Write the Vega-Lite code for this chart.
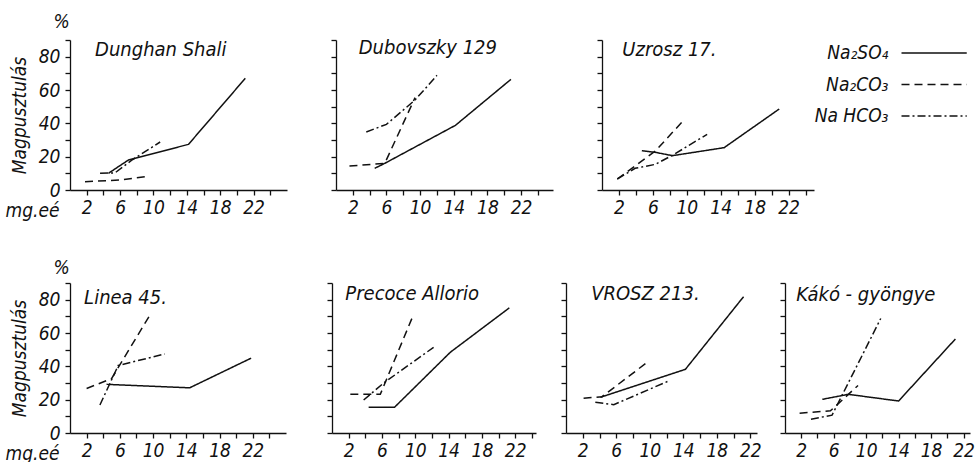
{
  "$schema": "https://vega.github.io/schema/vega-lite/v6.json",
  "background": "white",
  "padding": {"left": 5, "top": 12, "right": 0, "bottom": 0},
  "datasets": {
    "d": [
      {"p": 1, "s": "Na2SO4", "x": 4.6, "y": 10},
      {"p": 1, "s": "Na2SO4", "x": 7, "y": 18},
      {"p": 1, "s": "Na2SO4", "x": 14.2, "y": 27.4},
      {"p": 1, "s": "Na2SO4", "x": 21, "y": 67},
      {"p": 1, "s": "Na2CO3", "x": 1.8, "y": 5},
      {"p": 1, "s": "Na2CO3", "x": 6, "y": 6},
      {"p": 1, "s": "Na2CO3", "x": 9.4, "y": 8.3},
      {"p": 1, "s": "NaHCO3", "x": 3.6, "y": 10},
      {"p": 1, "s": "NaHCO3", "x": 5.4, "y": 10.3},
      {"p": 1, "s": "NaHCO3", "x": 7.4, "y": 17.9},
      {"p": 1, "s": "NaHCO3", "x": 10.8, "y": 28.8},

      {"p": 2, "s": "Na2SO4", "x": 4.6, "y": 13},
      {"p": 2, "s": "Na2SO4", "x": 5.8, "y": 16},
      {"p": 2, "s": "Na2SO4", "x": 14.2, "y": 38.8},
      {"p": 2, "s": "Na2SO4", "x": 20.8, "y": 66.4},
      {"p": 2, "s": "Na2CO3", "x": 1.6, "y": 14.4},
      {"p": 2, "s": "Na2CO3", "x": 5.8, "y": 16},
      {"p": 2, "s": "Na2CO3", "x": 9.4, "y": 55.4},
      {"p": 2, "s": "NaHCO3", "x": 3.6, "y": 34.8},
      {"p": 2, "s": "NaHCO3", "x": 6, "y": 39.4},
      {"p": 2, "s": "NaHCO3", "x": 9.4, "y": 54},
      {"p": 2, "s": "NaHCO3", "x": 12, "y": 68.8},

      {"p": 3, "s": "Na2SO4", "x": 4.7, "y": 23.6},
      {"p": 3, "s": "Na2SO4", "x": 6.3, "y": 22.6},
      {"p": 3, "s": "Na2SO4", "x": 8.3, "y": 20.6},
      {"p": 3, "s": "Na2SO4", "x": 14.4, "y": 25.4},
      {"p": 3, "s": "Na2SO4", "x": 20.9, "y": 48.6},
      {"p": 3, "s": "Na2CO3", "x": 1.8, "y": 6.6},
      {"p": 3, "s": "Na2CO3", "x": 6.3, "y": 23.4},
      {"p": 3, "s": "Na2CO3", "x": 9.4, "y": 40.6},
      {"p": 3, "s": "NaHCO3", "x": 1.8, "y": 6.6},
      {"p": 3, "s": "NaHCO3", "x": 3.9, "y": 13},
      {"p": 3, "s": "NaHCO3", "x": 6.3, "y": 15.4},
      {"p": 3, "s": "NaHCO3", "x": 8.5, "y": 21.4},
      {"p": 3, "s": "NaHCO3", "x": 12.4, "y": 33.4},

      {"p": 4, "s": "Na2SO4", "x": 4.4, "y": 29.2},
      {"p": 4, "s": "Na2SO4", "x": 14.4, "y": 27.1},
      {"p": 4, "s": "Na2SO4", "x": 21.8, "y": 44.9},
      {"p": 4, "s": "Na2CO3", "x": 2, "y": 26.7},
      {"p": 4, "s": "Na2CO3", "x": 5, "y": 32.6},
      {"p": 4, "s": "Na2CO3", "x": 9.6, "y": 70.6},
      {"p": 4, "s": "NaHCO3", "x": 3.6, "y": 16.8},
      {"p": 4, "s": "NaHCO3", "x": 5.8, "y": 40.5},
      {"p": 4, "s": "NaHCO3", "x": 11.4, "y": 47.4},

      {"p": 5, "s": "Na2SO4", "x": 4.4, "y": 15.4},
      {"p": 5, "s": "Na2SO4", "x": 7.5, "y": 15.4},
      {"p": 5, "s": "Na2SO4", "x": 14.2, "y": 48.4},
      {"p": 5, "s": "Na2SO4", "x": 21.3, "y": 75.1},
      {"p": 5, "s": "Na2CO3", "x": 2.2, "y": 23.2},
      {"p": 5, "s": "Na2CO3", "x": 5.8, "y": 23.2},
      {"p": 5, "s": "Na2CO3", "x": 9.6, "y": 68.8},
      {"p": 5, "s": "NaHCO3", "x": 3.8, "y": 19.8},
      {"p": 5, "s": "NaHCO3", "x": 6.2, "y": 30},
      {"p": 5, "s": "NaHCO3", "x": 12.2, "y": 51.4},

      {"p": 6, "s": "Na2SO4", "x": 4.1, "y": 21.4},
      {"p": 6, "s": "Na2SO4", "x": 14.25, "y": 38.2},
      {"p": 6, "s": "Na2SO4", "x": 21.2, "y": 81.8},
      {"p": 6, "s": "Na2CO3", "x": 2.1, "y": 20.8},
      {"p": 6, "s": "Na2CO3", "x": 4.3, "y": 21.8},
      {"p": 6, "s": "Na2CO3", "x": 9.9, "y": 43.2},
      {"p": 6, "s": "NaHCO3", "x": 3.5, "y": 18.4},
      {"p": 6, "s": "NaHCO3", "x": 5.7, "y": 17},
      {"p": 6, "s": "NaHCO3", "x": 12.3, "y": 31.3},

      {"p": 7, "s": "Na2SO4", "x": 4.6, "y": 20.2},
      {"p": 7, "s": "Na2SO4", "x": 7.8, "y": 23.2},
      {"p": 7, "s": "Na2SO4", "x": 14, "y": 19.2},
      {"p": 7, "s": "Na2SO4", "x": 21, "y": 56.4},
      {"p": 7, "s": "Na2CO3", "x": 1.8, "y": 11.9},
      {"p": 7, "s": "Na2CO3", "x": 5.6, "y": 13.3},
      {"p": 7, "s": "Na2CO3", "x": 9, "y": 28.5},
      {"p": 7, "s": "NaHCO3", "x": 3.2, "y": 8.3},
      {"p": 7, "s": "NaHCO3", "x": 5.8, "y": 10.7},
      {"p": 7, "s": "NaHCO3", "x": 11.8, "y": 68.7}
    ]
  },
  "spacing": 38,
  "vconcat": [
    {
      "spacing": 0,
      "hconcat": [
        {
          "spacing": 43,
          "hconcat": [
            {
              "width": 217, "height": 150,
              "layer": [
                {
                  "data": {"name": "d"},
                  "transform": [{"filter": "datum.p == 1"}],
                  "mark": {"type": "line"},
                  "encoding": {
                    "x": {"field": "x", "type": "quantitative", "scale": {"domain": [0, 26], "nice": false, "zero": false},
                      "axis": {"values": [2,4,6,8,10,12,14,16,18,20,22,24], "format": "d", "labelExpr": "(datum.value + 2) % 4 == 0 ? datum.label : ''", "title": "mg.eé", "titleX": -38, "titleY": 26, "titleAlign": "center", "titleBaseline": "alphabetic"}},
                    "y": {"field": "y", "type": "quantitative", "scale": {"domain": [0, 90], "nice": false},
                      "axis": {"values": [0,10,20,30,40,50,60,70,80,90], "format": "d", "labelExpr": "datum.value % 20 == 0 ? datum.label : ''", "title": "Magpusztulás", "titlePadding": 9, "labelPadding": 5}},
                    "strokeDash": {"field": "s", "type": "nominal", "scale": {"domain": ["Na2SO4", "Na2CO3", "NaHCO3"], "range": [[1, 0], [8, 5], [8, 3, 2, 3]]}, "legend": null}
                  }
                },
                {
                  "data": {"values": [{"n": "Dunghan Shali"}]},
                  "mark": {"type": "text", "align": "left", "baseline": "middle", "fontSize": 20},
                  "encoding": {"text": {"field": "n"}, "x": {"datum": 3}, "y": {"datum": 84}}
                },
                {
                  "data": {"values": [{"n": "%"}]},
                  "mark": {"type": "text", "align": "center", "baseline": "middle"},
                  "encoding": {"text": {"field": "n"}, "x": {"datum": -1}, "y": {"datum": 101}}
                }
              ]
            },
            {
              "width": 217, "height": 150,
              "layer": [
                {
                  "data": {"name": "d"},
                  "transform": [{"filter": "datum.p == 2"}],
                  "mark": {"type": "line"},
                  "encoding": {
                    "x": {"field": "x", "type": "quantitative", "scale": {"domain": [0, 25.8], "nice": false, "zero": false},
                      "axis": {"values": [2,4,6,8,10,12,14,16,18,20,22,24], "format": "d", "labelExpr": "(datum.value + 2) % 4 == 0 ? datum.label : ''", "title": null}},
                    "y": {"field": "y", "type": "quantitative", "scale": {"domain": [0, 90], "nice": false},
                      "axis": {"values": [0,10,20,30,40,50,60,70,80,90], "labels": false, "title": null}},
                    "strokeDash": {"field": "s", "type": "nominal", "legend": null}
                  }
                },
                {
                  "data": {"values": [{"n": "Dubovszky 129"}]},
                  "mark": {"type": "text", "align": "left", "baseline": "middle", "fontSize": 20},
                  "encoding": {"text": {"field": "n"}, "x": {"datum": 2.7}, "y": {"datum": 85}}
                }
              ]
            },
            {
              "width": 212, "height": 150,
              "layer": [
                {
                  "data": {"name": "d"},
                  "transform": [{"filter": "datum.p == 3"}],
                  "mark": {"type": "line"},
                  "encoding": {
                    "x": {"field": "x", "type": "quantitative", "scale": {"domain": [0, 25], "nice": false, "zero": false},
                      "axis": {"values": [2,4,6,8,10,12,14,16,18,20,22,24], "format": "d", "labelExpr": "(datum.value + 2) % 4 == 0 ? datum.label : ''", "title": null}},
                    "y": {"field": "y", "type": "quantitative", "scale": {"domain": [0, 90], "nice": false},
                      "axis": {"values": [0,10,20,30,40,50,60,70,80,90], "labels": false, "title": null}},
                    "strokeDash": {"field": "s", "type": "nominal", "legend": null}
                  }
                },
                {
                  "data": {"values": [{"n": "Uzrosz 17."}]},
                  "mark": {"type": "text", "align": "left", "baseline": "middle", "fontSize": 20},
                  "encoding": {"text": {"field": "n"}, "x": {"datum": 2.4}, "y": {"datum": 84}}
                }
              ]
            }
          ]
        },
        {
          "width": 145, "height": 89,
          "data": {"values": [
            {"s": "Na2SO4", "label": "Na₂SO₄"},
            {"s": "Na2CO3", "label": "Na₂CO₃"},
            {"s": "NaHCO3", "label": "Na HCO₃"}
          ]},
          "layer": [
            {
              "mark": {"type": "rule"},
              "encoding": {
                "x": {"datum": 0.5, "type": "quantitative", "scale": {"domain": [0, 1], "nice": false, "zero": false}, "axis": null},
                "x2": {"datum": 0.95},
                "y": {"field": "s", "type": "nominal", "scale": {"type": "point", "domain": ["Na2SO4", "Na2CO3", "NaHCO3"], "padding": 0.41}, "axis": null},
                "strokeDash": {"field": "s", "type": "nominal", "legend": null}
              }
            },
            {
              "mark": {"type": "text", "align": "right", "baseline": "middle"},
              "encoding": {
                "x": {"datum": 0.41},
                "y": {"field": "s", "type": "nominal"},
                "text": {"field": "label"}
              }
            }
          ]
        }
      ]
    },
    {
      "spacing": 24,
      "hconcat": [
        {
          "spacing": 40,
          "hconcat": [
            {
              "width": 216, "height": 150,
              "layer": [
                {
                  "data": {"name": "d"},
                  "transform": [{"filter": "datum.p == 4"}],
                  "mark": {"type": "line"},
                  "encoding": {
                    "x": {"field": "x", "type": "quantitative", "scale": {"domain": [0, 26], "nice": false, "zero": false},
                      "axis": {"values": [2,4,6,8,10,12,14,16,18,20,22,24], "format": "d", "labelExpr": "(datum.value + 2) % 4 == 0 ? datum.label : ''", "title": "mg.eé", "titleX": -38, "titleY": 26, "titleAlign": "center", "titleBaseline": "alphabetic"}},
                    "y": {"field": "y", "type": "quantitative", "scale": {"domain": [0, 90], "nice": false},
                      "axis": {"values": [0,10,20,30,40,50,60,70,80,90], "format": "d", "labelExpr": "datum.value % 20 == 0 ? datum.label : ''", "title": "Magpusztulás", "titlePadding": 9, "labelPadding": 5}},
                    "strokeDash": {"field": "s", "type": "nominal", "legend": null}
                  }
                },
                {
                  "data": {"values": [{"n": "Linea 45."}]},
                  "mark": {"type": "text", "align": "left", "baseline": "middle", "fontSize": 20},
                  "encoding": {"text": {"field": "n"}, "x": {"datum": 1.7}, "y": {"datum": 81}}
                },
                {
                  "data": {"values": [{"n": "%"}]},
                  "mark": {"type": "text", "align": "center", "baseline": "middle"},
                  "encoding": {"text": {"field": "n"}, "x": {"datum": -1}, "y": {"datum": 99}}
                }
              ]
            },
            {
              "width": 204, "height": 150,
              "layer": [
                {
                  "data": {"name": "d"},
                  "transform": [{"filter": "datum.p == 5"}],
                  "mark": {"type": "line"},
                  "encoding": {
                    "x": {"field": "x", "type": "quantitative", "scale": {"domain": [0, 24.5], "nice": false, "zero": false},
                      "axis": {"values": [2,4,6,8,10,12,14,16,18,20,22,24], "format": "d", "labelExpr": "(datum.value + 2) % 4 == 0 ? datum.label : ''", "title": null}},
                    "y": {"field": "y", "type": "quantitative", "scale": {"domain": [0, 90], "nice": false},
                      "axis": {"values": [0,10,20,30,40,50,60,70,80,90], "labels": false, "title": null}},
                    "strokeDash": {"field": "s", "type": "nominal", "legend": null}
                  }
                },
                {
                  "data": {"values": [{"n": "Precoce Allorio"}]},
                  "mark": {"type": "text", "align": "left", "baseline": "middle", "fontSize": 20},
                  "encoding": {"text": {"field": "n"}, "x": {"datum": 1.6}, "y": {"datum": 83.4}}
                }
              ]
            }
          ]
        },
        {
          "spacing": 17,
          "hconcat": [
            {
              "width": 191, "height": 150,
              "layer": [
                {
                  "data": {"name": "d"},
                  "transform": [{"filter": "datum.p == 6"}],
                  "mark": {"type": "line"},
                  "encoding": {
                    "x": {"field": "x", "type": "quantitative", "scale": {"domain": [0, 22.8], "nice": false, "zero": false},
                      "axis": {"values": [2,4,6,8,10,12,14,16,18,20,22], "format": "d", "labelExpr": "(datum.value + 2) % 4 == 0 ? datum.label : ''", "title": null}},
                    "y": {"field": "y", "type": "quantitative", "scale": {"domain": [0, 90], "nice": false},
                      "axis": {"values": [0,10,20,30,40,50,60,70,80,90], "labels": false, "title": null}},
                    "strokeDash": {"field": "s", "type": "nominal", "legend": null}
                  }
                },
                {
                  "data": {"values": [{"n": "VROSZ 213."}]},
                  "mark": {"type": "text", "align": "left", "baseline": "middle", "fontSize": 20},
                  "encoding": {"text": {"field": "n"}, "x": {"datum": 3.0}, "y": {"datum": 83.4}}
                }
              ]
            },
            {
              "width": 185, "height": 150,
              "layer": [
                {
                  "data": {"name": "d"},
                  "transform": [{"filter": "datum.p == 7"}],
                  "mark": {"type": "line"},
                  "encoding": {
                    "x": {"field": "x", "type": "quantitative", "scale": {"domain": [0, 22.8], "nice": false, "zero": false},
                      "axis": {"values": [2,4,6,8,10,12,14,16,18,20,22], "format": "d", "labelExpr": "(datum.value + 2) % 4 == 0 ? datum.label : ''", "title": null}},
                    "y": {"field": "y", "type": "quantitative", "scale": {"domain": [0, 90], "nice": false},
                      "axis": {"values": [0,10,20,30,40,50,60,70,80,90], "labels": false, "title": null}},
                    "strokeDash": {"field": "s", "type": "nominal", "legend": null}
                  }
                },
                {
                  "data": {"values": [{"n": "Kákó - gyöngye"}]},
                  "mark": {"type": "text", "align": "left", "baseline": "middle", "fontSize": 20},
                  "encoding": {"text": {"field": "n"}, "x": {"datum": 1.4}, "y": {"datum": 83}}
                }
              ]
            }
          ]
        }
      ]
    }
  ],
  "config": {
    "view": {"stroke": null},
    "axis": {
      "grid": false,
      "tickCount": 50,
      "domainColor": "#111",
      "domainWidth": 1.3,
      "tickColor": "#111",
      "tickWidth": 1.3,
      "tickSize": 5,
      "labelColor": "#111",
      "labelFont": "DejaVu Sans Condensed, DejaVu Sans, sans-serif",
      "labelFontStyle": "italic",
      "labelFontSize": 19,
      "labelPadding": 3,
      "labelFlush": false,
      "labelOverlap": false,
      "labelBound": false,
      "titleColor": "#111",
      "titleFont": "DejaVu Sans Condensed, DejaVu Sans, sans-serif",
      "titleFontStyle": "italic",
      "titleFontWeight": "normal",
      "titleFontSize": 19
    },
    "text": {"font": "DejaVu Sans Condensed, DejaVu Sans, sans-serif", "fontStyle": "italic", "fontSize": 19, "color": "#111"},
    "line": {"color": "#111", "strokeWidth": 1.5},
    "rule": {"color": "#111", "strokeWidth": 1.5}
  }
}
